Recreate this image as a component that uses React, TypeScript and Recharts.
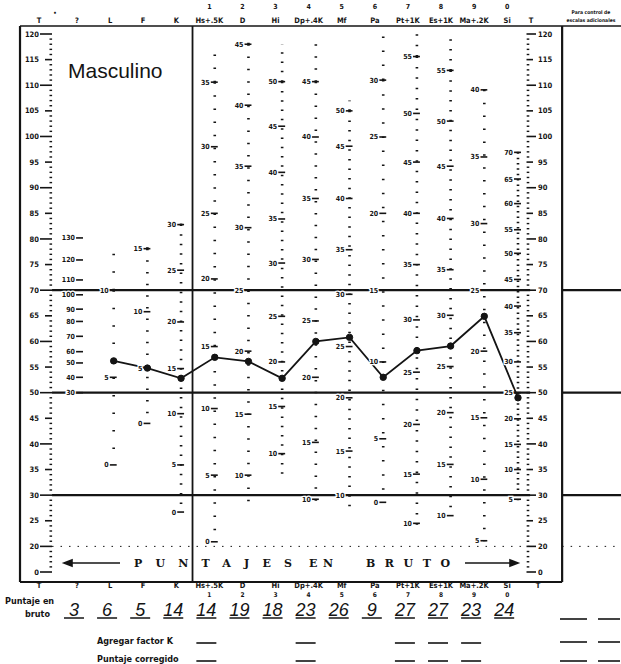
import React from "react";
import { ComposedChart, Line, Scatter, XAxis, YAxis, ReferenceLine } from "recharts";

// ---------- data ----------
const scaleNames = ["?", "L", "F", "K", "Hs+.5K", "D", "Hi", "Dp+.4K", "Mf", "Pa", "Pt+1K", "Es+1K", "Ma+.2K", "Si"];
const scaleNumbers = ["", "", "", "", "1", "2", "3", "4", "5", "6", "7", "8", "9", "0"];
const rawScores = ["3", "6", "5", "14", "14", "19", "18", "23", "26", "9", "27", "27", "23", "24"];
const addsKFactor = [false, false, false, false, true, false, false, true, false, false, true, true, true, false];
const profileT: (number | null)[] = [null, 56.2, 54.8, 52.8, 56.9, 56.1, 52.8, 60.0, 60.8, 53.0, 58.2, 59.1, 64.9, 49.0];

// T scale: the printed "0" mark sits at the compressed position 15
const tMajorTicks = [15, 20, 25, 30, 35, 40, 45, 50, 55, 60, 65, 70, 75, 80, 85, 90, 95, 100, 105, 110, 115, 120];
const tMajorLabels = ["0", "20", "25", "30", "35", "40", "45", "50", "55", "60", "65", "70", "75", "80", "85", "90", "95", "100", "105", "110", "115", "120"];
const tBoldLines = [70, 50, 30];

// raw-score marks per column: [raw score, T position]
const marksQ: [number, number][] = [[130, 80.2], [120, 75.9], [110, 72.0], [100, 69.1], [90, 66.3], [80, 63.9], [70, 61.0], [60, 58.0], [50, 55.8], [40, 53.0], [30, 50.0]];
const marksL: [number, number][] = [[10, 70], [5, 53], [0, 35.9]];
const marksF: [number, number][] = [[15, 78.1], [10, 65.8], [5, 54.8], [0, 44]];
const marksK: [number, number][] = [[30, 82.8], [25, 73.9], [20, 63.8], [15, 54.7], [10, 45.9], [5, 35.9], [0, 26.7]];
const marksHs: [number, number][] = [[35, 110.6], [30, 98], [25, 85], [20, 72.2], [15, 59], [10, 46.9], [5, 33.9], [0, 20.9]];
const marksD: [number, number][] = [[45, 118], [40, 106.1], [35, 94.2], [30, 82.2], [25, 70], [20, 58.1], [15, 45.8], [10, 33.9]];
const marksHy: [number, number][] = [[50, 110.7], [45, 102], [40, 93], [35, 83.9], [30, 75.3], [25, 64.9], [20, 56], [15, 47.3], [10, 38.1]];
const marksPd: [number, number][] = [[45, 110.7], [40, 99.9], [35, 87.9], [30, 76], [25, 64], [20, 53], [15, 40.3], [10, 29.2]];
const marksMf: [number, number][] = [[50, 105], [45, 98.1], [40, 87.9], [35, 77.9], [30, 69.2], [25, 59], [20, 49], [15, 38.6], [10, 30]];
const marksPa: [number, number][] = [[30, 111], [25, 99.9], [20, 85], [15, 70], [10, 56], [5, 41], [0, 28.6]];
const marksPt: [number, number][] = [[55, 115.6], [50, 104.5], [45, 95], [40, 85], [35, 75], [30, 64.2], [25, 54], [20, 43.8], [15, 34.1], [10, 24.5]];
const marksSc: [number, number][] = [[55, 112.9], [50, 103], [45, 94.2], [40, 84], [35, 74], [30, 65.1], [25, 55.1], [20, 46.1], [15, 36], [10, 26]];
const marksMa: [number, number][] = [[40, 109.1], [35, 96], [30, 83], [25, 70], [20, 58.1], [15, 45.1], [10, 33.1], [5, 21.1]];
const marksSi: [number, number][] = [[70, 96.9], [65, 91.7], [60, 86.9], [55, 81.8], [50, 77.2], [45, 72.1], [40, 66.9], [35, 61.7], [30, 56], [25, 50], [20, 44.9], [15, 39.9], [10, 35], [5, 29.2]];
const marksByColumn = [marksQ, marksL, marksF, marksK, marksHs, marksD, marksHy, marksPd, marksMf, marksPa, marksPt, marksSc, marksMa, marksSi];

// extent (in T) of each column's dotted raw scale
const dotTopT: (number | null)[] = [null, 80, 80, 83, 118, 120, 118, 119, 107, 120, 120, 120, 109, 97];
const dotBottomT: (number | null)[] = [null, 36, 44, 26.7, 20.9, 28, 34, 27, 27, 28.6, 24, 26, 21, 29];

// banner words across the bottom of the grid
const bannerWords = ["PUNTAJES", "EN", "BRUTO"];

// ---------- layout ----------
const W = 621;
const H = 664;
const PLOT_TOP = 34;
const PLOT_BOTTOM = 572;
const Y_DOMAIN: [number, number] = [15, 120];
const X_DOMAIN: [number, number] = [-0.89, 13.297];
const PX_PER_T = (PLOT_BOTTOM - PLOT_TOP) / (Y_DOMAIN[1] - Y_DOMAIN[0]);
const FRAME_LEFT = -1.78;
const FRAME_RIGHT_COL = 14.31;
const FRAME_END = 16.06;
const DIVIDER = 3.34;
const LINE_START = -0.83;
const LINE_END = 13.36;
const FRAME_TOP_T = 121.56;
const FRAME_BOTTOM_T = 13.05;
const BANNER_X = [134, 309, 366];
const BANNER_LEN = [158, 24, 84];

const INK = "#141414";
const FONT = "'Liberation Sans Narrow','DejaVu Sans Condensed','Liberation Sans',sans-serif";

const colIdx = scaleNames.map((_, i) => i);
const profileRows = profileT
  .map((t, i) => ({ col: i, t }))
  .filter((r) => r.t !== null);
const markRows = marksByColumn.flatMap((marks, col) => marks.map(([raw, t]) => ({ col, t, raw })));
const minorT: number[] = [];
for (let v = Y_DOMAIN[0]; v <= Y_DOMAIN[1]; v++) if (!tMajorTicks.includes(v)) minorT.push(v);
const allTTicks = [...tMajorTicks, ...minorT].sort((a, b) => a - b);

const labelShift = (i: number) => -3 - 0.6 * i;

// ---------- ticks & shapes ----------
function TopTick(p: any) {
  const i = p.payload.value as number;
  const cx = p.x + labelShift(i);
  return (
    <g fontFamily={FONT} fontWeight={700} fill={INK}>
      {scaleNumbers[i] ? (
        <text x={cx} y={p.y - 25} textAnchor="middle" fontSize={7}>{scaleNumbers[i]}</text>
      ) : null}
      <text x={cx} y={p.y - 11} textAnchor="middle" fontSize={7.5}>{scaleNames[i]}</text>
    </g>
  );
}

function BottomTick(p: any) {
  const i = p.payload.value as number;
  const cx = p.x + labelShift(i);
  const ux = cx - 3;
  const y = p.y;
  return (
    <g fontFamily={FONT} fill={INK}>
      <text x={cx} y={y + 16} textAnchor="middle" fontSize={7.5} fontWeight={700}>{scaleNames[i]}</text>
      {scaleNumbers[i] ? (
        <text x={cx} y={y + 25} textAnchor="middle" fontSize={6.5} fontWeight={700}>{scaleNumbers[i]}</text>
      ) : null}
      <text x={ux} y={y + 44} textAnchor="middle" fontSize={18} fontStyle="italic" fontFamily="'Liberation Sans',sans-serif">{rawScores[i]}</text>
      <line x1={ux - 10} x2={ux + 10} y1={y + 46} y2={y + 46} stroke={INK} strokeWidth={1.5} />
      {addsKFactor[i] ? (
        <g stroke={INK} strokeWidth={1.6}>
          <line x1={ux - 10} x2={ux + 10} y1={y + 71} y2={y + 71} />
          <line x1={ux - 10} x2={ux + 10} y1={y + 89} y2={y + 89} />
        </g>
      ) : null}
    </g>
  );
}

function tLabel(v: number) {
  const k = tMajorTicks.indexOf(v);
  return k >= 0 ? tMajorLabels[k] : null;
}

function LeftTTick(p: any) {
  const v = p.payload.value as number;
  const label = tLabel(v);
  const { x, y } = p;
  if (label === null) return <rect x={x - 0.5} y={y - 0.7} width={2.6} height={1.4} fill={INK} />;
  const long = v % 10 === 0 || v === Y_DOMAIN[0];
  return (
    <g>
      <line x1={x - (long ? 10 : 5)} x2={x + 2} y1={y} y2={y} stroke={INK} strokeWidth={1.6} />
      <text x={x - 11} y={y + 2.6} textAnchor="end" fontSize={7.5} fontWeight={700} fontFamily={FONT} fill={INK}>{label}</text>
    </g>
  );
}

function RightTTick(p: any) {
  const v = p.payload.value as number;
  const label = tLabel(v);
  const { x, y } = p;
  if (label === null) return <rect x={x - 1.3} y={y - 0.7} width={2.6} height={1.4} fill={INK} />;
  const long = v % 10 === 0 || v === Y_DOMAIN[0];
  return (
    <g>
      <line x1={x - 1.5} x2={x + (long ? 8 : 5)} y1={y} y2={y} stroke={INK} strokeWidth={1.6} />
      <text x={x + 10} y={y + 2.6} textAnchor="start" fontSize={7.5} fontWeight={700} fontFamily={FONT} fill={INK}>{label}</text>
    </g>
  );
}

function RawMark(p: any) {
  const { cx, cy, payload } = p;
  if (cx == null || cy == null) return null;
  return (
    <g>
      <line x1={cx - 4} x2={cx + 3} y1={cy} y2={cy} stroke={INK} strokeWidth={1.6} />
      <text
        x={cx - 5}
        y={cy + 2.5}
        textAnchor="end"
        fontSize={7}
        fontWeight={700}
        fontFamily={FONT}
        fill={INK}
        stroke="#fff"
        strokeWidth={2.4}
        paintOrder="stroke"
      >
        {String(payload.raw)}
      </text>
    </g>
  );
}

function Decorations() {
  const bold = { fontFamily: FONT, fontWeight: 700, fill: INK } as const;
  return (
    <g>
      <text x={68} y={78} fontSize={21} fontFamily="'Liberation Sans',Arial,sans-serif" fill={INK}>Masculino</text>
      <text x={39} y={23} textAnchor="middle" fontSize={7.5} {...bold}>T</text>
      <text x={55} y={15} textAnchor="middle" fontSize={6} {...bold}>•</text>
      <text x={531} y={23} textAnchor="middle" fontSize={7.5} {...bold}>T</text>
      <text x={591} y={14} textAnchor="middle" fontSize={5} {...bold}>Para control de</text>
      <text x={591} y={22} textAnchor="middle" fontSize={5} {...bold}>escalas adicionales</text>
      <text x={39} y={588} textAnchor="middle" fontSize={7.5} {...bold}>T</text>
      <text x={538} y={588} textAnchor="middle" fontSize={7.5} {...bold}>T</text>
      <text x={5} y={604} fontSize={9} {...bold}>Puntaje en</text>
      <text x={25} y={617} fontSize={9} {...bold}>bruto</text>
      <text x={97} y={644} fontSize={9} {...bold}>Agregar factor K</text>
      <text x={97} y={662} fontSize={9} {...bold}>Puntaje corregido</text>
      <g stroke={INK} strokeWidth={1.6}>
        {[619, 642, 661].map((yy) => (
          <g key={yy}>
            <line x1={560} x2={587} y1={yy} y2={yy} />
            <line x1={598} x2={620} y1={yy} y2={yy} />
          </g>
        ))}
      </g>
      {bannerWords.map((w, k) => (
        <text
          key={w}
          x={BANNER_X[k]}
          y={567}
          fontSize={11}
          fontWeight={700}
          fontFamily="'DejaVu Serif','Liberation Serif',serif"
          fill={INK}
          textLength={BANNER_LEN[k]}
          lengthAdjust="spacing"
        >
          {w}
        </text>
      ))}
      <g stroke={INK} strokeWidth={1.6} fill={INK}>
        <line x1={70} x2={120} y1={563} y2={563} />
        <polygon points="64,563 72,560 72,566" />
        <line x1={465} x2={512} y1={563} y2={563} />
        <polygon points="518,563 510,560 510,566" />
      </g>
    </g>
  );
}

// ---------- chart ----------
export default function App() {
  const ref = { xAxisId: "bottom", yAxisId: "left" } as const;
  const dotLines: React.ReactNode[] = [];
  marksByColumn.forEach((marks, col) => {
    const top = dotTopT[col];
    const bottom = dotBottomT[col];
    if (top === null || bottom === null || marks.length < 2) return;
    const first = marks[0];
    const last = marks[marks.length - 1];
    const sp = ((first[1] - last[1]) / (first[0] - last[0])) * PX_PER_T;
    const dash = `1.5 ${Math.max(sp - 1.5, 1.5)}`;
    const common = { ...ref, stroke: INK, strokeWidth: 2.6, strokeDasharray: dash, ifOverflow: "visible" as const };
    if (top > first[1])
      dotLines.push(<ReferenceLine key={`u${col}`} {...common} segment={[{ x: col, y: first[1] }, { x: col, y: top }]} />);
    dotLines.push(<ReferenceLine key={`d${col}`} {...common} segment={[{ x: col, y: first[1] }, { x: col, y: bottom }]} />);
  });

  const frame = { ...ref, stroke: INK, ifOverflow: "visible" as const };

  return (
    <div style={{ width: W, height: H, background: "#fff" }}>
      <style>{"body{margin:0;background:#fff}"}</style>
      <ComposedChart width={W} height={H} data={profileRows} margin={{ top: 0, right: 0, bottom: 0, left: 20 }}>
        <XAxis
          xAxisId="top"
          orientation="top"
          type="number"
          dataKey="col"
          domain={X_DOMAIN}
          allowDataOverflow
          ticks={colIdx}
          interval={0}
          tick={(p: any) => <TopTick {...p} />}
          tickLine={false}
          axisLine={false}
          tickSize={0}
          tickMargin={0}
          height={PLOT_TOP}
        />
        <XAxis
          xAxisId="bottom"
          orientation="bottom"
          type="number"
          dataKey="col"
          domain={X_DOMAIN}
          allowDataOverflow
          ticks={colIdx}
          interval={0}
          tick={(p: any) => <BottomTick {...p} />}
          tickLine={false}
          axisLine={false}
          tickSize={0}
          tickMargin={0}
          height={H - PLOT_BOTTOM}
        />
        <YAxis
          yAxisId="left"
          type="number"
          domain={Y_DOMAIN}
          allowDataOverflow
          ticks={allTTicks}
          interval={0}
          tick={(p: any) => <LeftTTick {...p} />}
          tickLine={false}
          axisLine={false}
          tickSize={0}
          tickMargin={0}
          width={30}
        />
        <YAxis
          yAxisId="right"
          orientation="right"
          type="number"
          domain={Y_DOMAIN}
          allowDataOverflow
          ticks={allTTicks}
          interval={0}
          tick={(p: any) => <RightTTick {...p} />}
          tickLine={false}
          axisLine={false}
          tickSize={0}
          tickMargin={0}
          width={W - 528}
        />

        {/* frame */}
        <ReferenceLine {...frame} strokeWidth={1.6} segment={[{ x: FRAME_LEFT, y: FRAME_TOP_T }, { x: FRAME_END, y: FRAME_TOP_T }]} />
        <ReferenceLine {...frame} strokeWidth={1.8} segment={[{ x: FRAME_LEFT, y: FRAME_BOTTOM_T }, { x: FRAME_RIGHT_COL, y: FRAME_BOTTOM_T }]} />
        <ReferenceLine {...frame} strokeWidth={2.2} segment={[{ x: FRAME_LEFT, y: FRAME_TOP_T }, { x: FRAME_LEFT, y: FRAME_BOTTOM_T }]} />
        <ReferenceLine {...frame} strokeWidth={2.2} segment={[{ x: FRAME_RIGHT_COL, y: FRAME_TOP_T }, { x: FRAME_RIGHT_COL, y: FRAME_BOTTOM_T }]} />
        <ReferenceLine {...frame} strokeWidth={1.8} segment={[{ x: DIVIDER, y: FRAME_TOP_T }, { x: DIVIDER, y: FRAME_BOTTOM_T }]} />
        {tBoldLines.map((t) => (
          <React.Fragment key={t}>
            <ReferenceLine {...frame} strokeWidth={2.2} segment={[{ x: LINE_START, y: t }, { x: LINE_END, y: t }]} />
            <ReferenceLine {...frame} strokeWidth={2.2} segment={[{ x: FRAME_RIGHT_COL, y: t }, { x: FRAME_END, y: t }]} />
          </React.Fragment>
        ))}
        <ReferenceLine {...frame} strokeWidth={1} strokeDasharray="1.5 7" segment={[{ x: LINE_START, y: 20 }, { x: LINE_END, y: 20 }]} />
        <ReferenceLine {...frame} strokeWidth={1} strokeDasharray="1.5 7" segment={[{ x: FRAME_RIGHT_COL, y: 20 }, { x: FRAME_END, y: 20 }]} />

        {dotLines}

        <Scatter
          xAxisId="bottom"
          yAxisId="left"
          data={markRows}
          dataKey="t"
          isAnimationActive={false}
          shape={(p: any) => <RawMark {...p} />}
        />
        <Line
          xAxisId="bottom"
          yAxisId="left"
          type="linear"
          dataKey="t"
          stroke={INK}
          strokeWidth={1.8}
          dot={{ r: 3.2, fill: INK, stroke: INK, strokeWidth: 1 }}
          isAnimationActive={false}
        />
        <Decorations />
      </ComposedChart>
    </div>
  );
}
